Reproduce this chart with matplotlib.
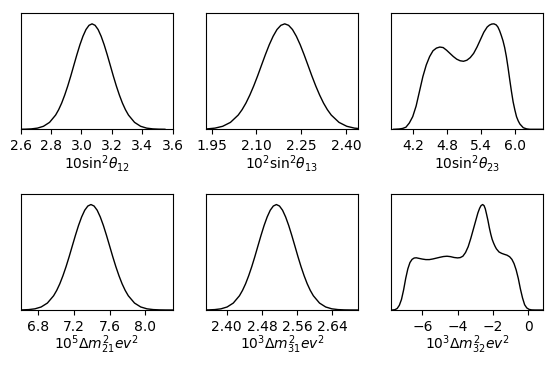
import matplotlib
matplotlib.use("Agg")
import matplotlib.pyplot as plt

# ---- data (relative density, peak = 1) ----
s12_x = [2.59, 2.63, 2.67, 2.71, 2.75, 2.79, 2.83, 2.85, 2.87, 2.89, 2.91, 2.93, 2.95, 2.97, 2.99,
         3.01, 3.03, 3.05, 3.07, 3.09, 3.11, 3.13, 3.15, 3.17, 3.19, 3.21, 3.23, 3.25, 3.27, 3.29,
         3.31, 3.35, 3.39, 3.43, 3.47, 3.51, 3.55]
s12_y = [0.0003, 0.0012, 0.0039, 0.0111, 0.0286, 0.0657, 0.135, 0.186, 0.249, 0.325, 0.411, 0.506,
         0.607, 0.707, 0.801, 0.882, 0.946, 0.986, 1.0, 0.986, 0.946, 0.882, 0.801, 0.707, 0.607,
         0.506, 0.411, 0.325, 0.249, 0.186, 0.135, 0.0657, 0.0286, 0.0111, 0.0039, 0.0012, 0.0003]

s13_x = [1.883, 1.909, 1.935, 1.961, 1.987, 2.013, 2.039, 2.052, 2.065, 2.078, 2.091, 2.104, 2.117,
         2.130, 2.143, 2.156, 2.169, 2.182, 2.195, 2.208, 2.221, 2.234, 2.247, 2.260, 2.273, 2.286,
         2.299, 2.312, 2.325, 2.338, 2.351, 2.377, 2.403, 2.429, 2.455, 2.481, 2.507]
s13_y = [0.0003, 0.0012, 0.0039, 0.0111, 0.0286, 0.0657, 0.135, 0.186, 0.249, 0.325, 0.411, 0.506,
         0.607, 0.707, 0.801, 0.882, 0.946, 0.986, 1.0, 0.986, 0.946, 0.882, 0.801, 0.707, 0.607,
         0.506, 0.411, 0.325, 0.249, 0.186, 0.135, 0.0657, 0.0286, 0.0111, 0.0039, 0.0012, 0.0003]

s23_x = [3.85, 3.95, 4.01, 4.07, 4.13, 4.19, 4.25, 4.31, 4.37, 4.43, 4.49, 4.55, 4.61, 4.67,
         4.73, 4.79, 4.85, 4.91, 4.97, 5.03, 5.09, 5.15, 5.21, 5.27, 5.33, 5.39, 5.45, 5.51,
         5.55, 5.59, 5.63, 5.67, 5.70, 5.73, 5.76, 5.79, 5.82, 5.85, 5.88, 5.91, 5.94, 5.97,
         6.00, 6.03, 6.06, 6.09, 6.15, 6.21, 6.27, 6.35, 6.50]
s23_y = [0.0, 0.003, 0.008, 0.02, 0.06, 0.12, 0.22, 0.36, 0.50, 0.61, 0.69, 0.745, 0.77, 0.78,
         0.775, 0.75, 0.72, 0.69, 0.665, 0.65, 0.645, 0.655, 0.68, 0.72, 0.78, 0.85, 0.92, 0.97,
         0.988, 0.998, 1.0, 0.99, 0.97, 0.935, 0.89, 0.84, 0.775, 0.69, 0.585, 0.47, 0.36, 0.26,
         0.185, 0.12, 0.08, 0.05, 0.015, 0.004, 0.0, 0.0, 0.0]

m21_x = [6.55, 6.62, 6.69, 6.76, 6.83, 6.90, 6.97, 7.005, 7.04, 7.075, 7.11, 7.145, 7.18, 7.215,
         7.25, 7.285, 7.32, 7.355, 7.39, 7.425, 7.46, 7.495, 7.53, 7.565, 7.60, 7.635, 7.67,
         7.705, 7.74, 7.775, 7.81, 7.88, 7.95, 8.02, 8.09, 8.16, 8.23, 8.32]
m21_y = [0.0003, 0.0012, 0.0039, 0.0111, 0.0286, 0.0657, 0.135, 0.186, 0.249, 0.325, 0.411, 0.506,
         0.607, 0.707, 0.801, 0.882, 0.946, 0.986, 1.0, 0.986, 0.946, 0.882, 0.801, 0.707, 0.607,
         0.506, 0.411, 0.325, 0.249, 0.186, 0.135, 0.0657, 0.0286, 0.0111, 0.0039, 0.0012, 0.0003, 0.0]

m31_x = [2.345, 2.359, 2.373, 2.387, 2.401, 2.415, 2.429, 2.436, 2.443, 2.450, 2.457, 2.464, 2.471,
         2.478, 2.485, 2.492, 2.499, 2.506, 2.513, 2.520, 2.527, 2.534, 2.541, 2.548, 2.555, 2.562,
         2.569, 2.576, 2.583, 2.590, 2.597, 2.611, 2.625, 2.639, 2.653, 2.667, 2.681, 2.70]
m31_y = [0.0003, 0.0012, 0.0039, 0.0111, 0.0286, 0.0657, 0.135, 0.186, 0.249, 0.325, 0.411, 0.506,
         0.607, 0.707, 0.801, 0.882, 0.946, 0.986, 1.0, 0.986, 0.946, 0.882, 0.801, 0.707, 0.607,
         0.506, 0.411, 0.325, 0.249, 0.186, 0.135, 0.0657, 0.0286, 0.0111, 0.0039, 0.0012, 0.0003, 0.0]

m32_x = [-7.70, -7.55, -7.42, -7.30, -7.18, -7.06, -6.94, -6.82, -6.70, -6.58, -6.46, -6.34,
         -6.20, -6.00, -5.80, -5.60, -5.40, -5.20, -5.00, -4.80, -4.60, -4.40, -4.20, -4.00,
         -3.85, -3.70, -3.55, -3.40, -3.25, -3.10, -2.95, -2.85, -2.75, -2.67, -2.58, -2.50,
         -2.43, -2.36, -2.28, -2.20, -2.12, -2.04, -1.96, -1.88, -1.80, -1.65, -1.50, -1.35,
         -1.20, -1.05, -0.92, -0.80, -0.68, -0.56, -0.44, -0.32, -0.20, -0.08, 0.05, 0.20,
         0.40, 0.83]
m32_y = [0.0, 0.003, 0.015, 0.045, 0.10, 0.19, 0.30, 0.39, 0.45, 0.48, 0.493, 0.495,
         0.49, 0.483, 0.478, 0.478, 0.484, 0.492, 0.50, 0.507, 0.51, 0.506, 0.498, 0.494,
         0.497, 0.51, 0.545, 0.60, 0.68, 0.77, 0.86, 0.92, 0.965, 0.99, 1.0, 0.99,
         0.96, 0.91, 0.85, 0.78, 0.72, 0.67, 0.635, 0.605, 0.58, 0.55, 0.537, 0.528,
         0.52, 0.505, 0.48, 0.44, 0.38, 0.30, 0.20, 0.115, 0.05, 0.02, 0.006, 0.001,
         0.0, 0.0]

labels = [r'$10\mathrm{sin}^2\theta_{12}$', r'$10^2\mathrm{sin}^2\theta_{13}$',
          r'$10\mathrm{sin}^2\theta_{23}$',
          r'$10^5\Delta m_{21}^2 ev^2$', r'$10^3\Delta m_{31}^2 ev^2$', r'$10^3\Delta m_{32}^2 ev^2$']
xticks = [[2.6, 2.8, 3.0, 3.2, 3.4, 3.6], [1.95, 2.10, 2.25, 2.40], [4.2, 4.8, 5.4, 6.0],
          [6.8, 7.2, 7.6, 8.0], [2.40, 2.48, 2.56, 2.64], [-6, -4, -2, 0]]
xticklabels = [['2.6', '2.8', '3.0', '3.2', '3.4', '3.6'], ['1.95', '2.10', '2.25', '2.40'],
               ['4.2', '4.8', '5.4', '6.0'], ['6.8', '7.2', '7.6', '8.0'],
               ['2.40', '2.48', '2.56', '2.64'], ['\u22126', '\u22124', '\u22122', '0']]
xlims = [(2.6, 3.6), (1.931, 2.440), (3.805, 6.496), (6.60, 8.307), (2.353, 2.698), (-7.774, 0.83)]

series = [(s12_x, s12_y), (s13_x, s13_y), (s23_x, s23_y),
          (m21_x, m21_y), (m31_x, m31_y), (m32_x, m32_y)]

fig = plt.figure(figsize=(5.56, 3.65), dpi=100)
lefts = [20.7, 206.0, 391.0]
tops = [13.3, 194.0]
W, H = 151.8, 116.0
for i, (xs, ys) in enumerate(series):
    r, c = divmod(i, 3)
    ax = fig.add_axes([lefts[c] / 556, 1 - (tops[r] + H) / 365, W / 556, H / 365])
    ax.plot(xs, ys, color='black', lw=1.0)
    ax.set_xlim(*xlims[i])
    ax.set_ylim(0, 1.1)
    ax.set_yticks([])
    ax.set_xticks(xticks[i])
    ax.set_xticklabels(xticklabels[i], fontsize=10)
    ax.set_xlabel(labels[i], fontsize=10, labelpad=0)

fig.savefig('out.png', dpi=100)
